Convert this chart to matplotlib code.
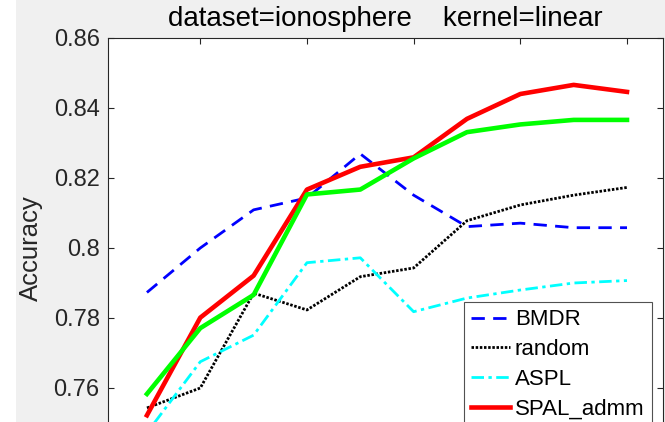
import matplotlib
matplotlib.use("Agg")
import matplotlib.pyplot as plt
from matplotlib.patches import Rectangle
from matplotlib.ticker import FuncFormatter

plt.rcParams['font.family'] = ['Liberation Sans', 'DejaVu Sans']

# Labelled query budget steps
steps = [1, 2, 3, 4, 5, 6, 7, 8, 9, 10]

bmdr = [0.7873, 0.8000, 0.8109, 0.8143, 0.8269, 0.8151, 0.8061, 0.8071, 0.8058, 0.8058]
random_sel = [0.7543, 0.7600, 0.7871, 0.7823, 0.7918, 0.7943, 0.8078, 0.8123, 0.8151, 0.8173]
aspl = [0.7472, 0.7675, 0.7751, 0.7958, 0.7972, 0.7818, 0.7857, 0.7880, 0.7900, 0.7907]
spal_admm = [0.7522, 0.7801, 0.7921, 0.8167, 0.8232, 0.8259, 0.8369, 0.8440, 0.8466, 0.8446]
spal = [0.7583, 0.7771, 0.7866, 0.8153, 0.8167, 0.8256, 0.8331, 0.8353, 0.8366, 0.8366]

labels = ['BMDR', 'random', 'ASPL', 'SPAL_admm', 'SPAL']
y_ticks = [0.76, 0.78, 0.80, 0.82, 0.84, 0.86]
x_ticks = [2, 4, 6, 8, 10]

W, H = 665, 422
fig = plt.figure(figsize=(W / 100, H / 100), dpi=100, facecolor='#f0f0f0')
fig.patches.append(Rectangle((0, 0), 16 / W, 1, transform=fig.transFigure,
                             facecolor='white', edgecolor='none', zorder=-1))

left, right, top, bottom = 108, 663, 38, 458
ax = fig.add_axes([left / W, 1 - bottom / H, (right - left) / W, (bottom - top) / H])

h1, = ax.plot(steps, bmdr, color=(0, 0, 1), lw=2.0, dashes=(4.8, 3.0), label=labels[0])
h2, = ax.plot(steps, random_sel, color='black', lw=2.0, dashes=(0.9, 0.6), label=labels[1])
h3, = ax.plot(steps, aspl, color=(0, 1, 1), lw=2.0, dashes=(4.5, 1.6, 1.2, 1.6), label=labels[2])
h4, = ax.plot(steps, spal_admm, color=(1, 0, 0), lw=3.3, label=labels[3])
h5, = ax.plot(steps, spal, color=(0, 1, 0), lw=3.3, label=labels[4])

ax.set_xlim(0.27, 10.675)
ax.set_ylim(0.74, 0.86)
ax.set_xticks(x_ticks)
ax.set_yticks(y_ticks)
ax.yaxis.set_major_formatter(FuncFormatter(lambda v, p: '%g' % round(v, 4)))

dark = '#262626'
ax.tick_params(direction='in', length=4, width=0.8, colors=dark,
               labelsize=17, top=True, right=True, pad=6)
ax.tick_params(axis='x', labelbottom=False)
for s in ax.spines.values():
    s.set_color(dark)
    s.set_linewidth(0.8)

ax.set_title('dataset=ionosphere    kernel=linear', fontsize=20, color='black', pad=9)
ax.set_ylabel('Accuracy', fontsize=18.5, color=dark)
ax.yaxis.set_label_coords((43 - left) / (right - left), 0.5)

# The legend box runs past the lower edge of the figure
leg = ax.legend(handles=[h1, h2, h3, h4], loc='upper left',
                bbox_to_anchor=(464 / W, 1 - 302 / H),
                bbox_transform=fig.transFigure, borderaxespad=0,
                fontsize=16, frameon=True, fancybox=False, handlelength=1.75,
                handletextpad=0.2, labelspacing=0.4, borderpad=0.33)
leg.get_frame().set_edgecolor(dark)
leg.get_frame().set_linewidth(0.8)
for t in leg.get_texts():
    t.set_color('black')

fig.savefig('out.png', dpi=100, facecolor=fig.get_facecolor())
